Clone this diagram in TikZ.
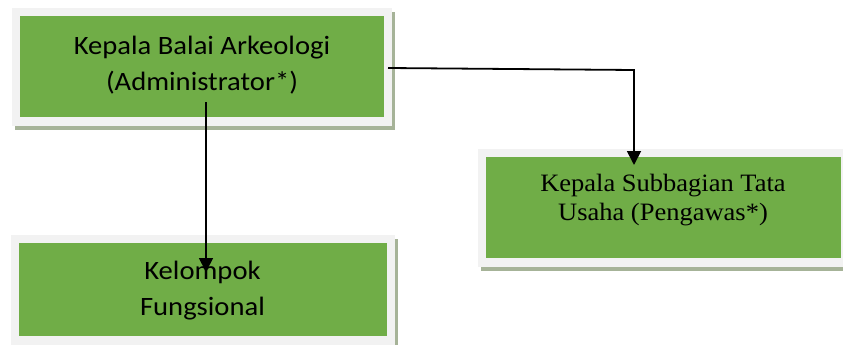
\documentclass[tikz,border=0pt]{standalone}
\usepackage{fontspec}
\setmainfont{Liberation Serif}
\newfontfamily\calfont{Carlito}
\usetikzlibrary{arrows.meta,calc,backgrounds}
\definecolor{boxgreen}{RGB}{112,173,71}
\definecolor{rimgrey}{RGB}{242,242,242}
\definecolor{shadowc}{RGB}{166,179,152}
\newcommand\stretchcal[1]{\scalebox{1.08}[1]{#1}}
\newcommand\stretchser[1]{\scalebox{1.06}[1]{#1}}
\newcommand\drawrim[1]{%
  \fill[shadowc] ($(#1.north west)+(-5,-4)$) rectangle ($(#1.south east)+(11,13)$);
  \fill[rimgrey] ($(#1.north west)+(-8,-8)$) rectangle ($(#1.south east)+(8,9)$);}
\begin{document}
\begin{tikzpicture}[x=1pt,y=-1pt,
  greenbox/.style={fill=boxgreen, inner sep=0pt, outer sep=0pt},
  caltext/.style={font=\calfont\fontsize{26.5}{36}\selectfont, anchor=base, inner sep=0pt},
  sertext/.style={font=\fontsize{25}{29}\selectfont, anchor=base, inner sep=0pt},
  conn/.style={line width=1.8pt, -{Triangle[length=14pt,width=14pt]}}
]
\clip (0,0) rectangle (843,345);

% boxes
\node[greenbox, minimum width=364pt, minimum height=101pt] (kepala) at (202,66.5) {};
\node[greenbox, minimum width=355pt, minimum height=101pt] (subbag) at (663.5,207.5) {};
\node[greenbox, minimum width=368pt, minimum height=93pt] (kelompok) at (203,289.5) {};
\begin{scope}[on background layer]
  \fill[white] (0,0) rectangle (843,345);
  \drawrim{kepala}
  \drawrim{subbag}
  \drawrim{kelompok}
\end{scope}

% texts
\node[caltext] (kepalaA) at (202,55) {\stretchcal{Kepala Balai Arkeologi}};
\node[caltext] (kepalaB) at (202,90) {\stretchcal{(Administrator*)}};
\node[sertext] (subbagA) at (663,191) {\stretchser{Kepala Subbagian Tata}};
\node[sertext] (subbagB) at (663,220) {\stretchser{Usaha (Pengawas*)}};
\node[caltext] (kelompokA) at (202.5,279) {\stretchcal{Kelompok}};
\node[caltext] (kelompokB) at (202.5,315) {\stretchcal{Fungsional}};

% connectors
\coordinate (k1) at (206,102);
\coordinate (k2) at (206,272);
\coordinate (s1) at (388,68);
\coordinate (s2) at (634,70);
\coordinate (s3) at (634,165);
\draw[conn] (k1) -- (k2);
\draw[conn] (s1) -- (s2) -- (s3);
\end{tikzpicture}
\end{document}
